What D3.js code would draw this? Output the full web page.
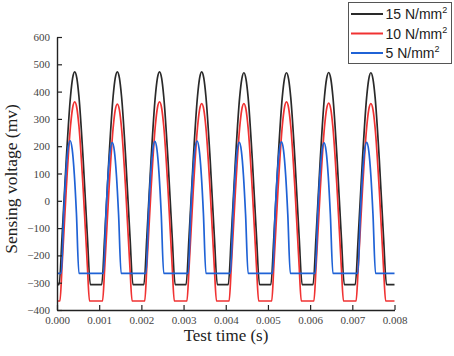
<!DOCTYPE html>
<html>
<head>
<meta charset="utf-8">
<script src="https://cdn.jsdelivr.net/npm/d3@7"></script>
<style>
  html, body { margin: 0; padding: 0; background: #fff; }
  svg { display: block; }
</style>
</head>
<body>
<svg id="chart" width="454" height="356"></svg>
<script>
// ---- data (time in ms, voltage in mV) ----
const xTickValues = [0, 1, 2, 3, 4, 5, 6, 7, 8];
const xTickLabels = ["0.000", "0.001", "0.002", "0.003", "0.004", "0.005", "0.006", "0.007", "0.008"];
const yTickValues = [-400, -300, -200, -100, 0, 100, 200, 300, 400, 500, 600];
const seriesNames = ["15 N/mm", "10 N/mm", "5 N/mm"];
const seriesColors = ["#2a2a2a", "#f03232", "#1f62d6"];

const series15 = [
  [0,-307],[0.05,-307],[0.12,-132],[0.22,152],[0.32,382],[0.37,449],[0.42,472],[0.47,449],[0.52,382],[0.62,152],[0.72,-132],[0.79,-307],
  [1.06,-307],[1.13,-132],[1.23,152],[1.33,382],[1.38,449],[1.43,472],[1.48,449],[1.53,382],[1.63,152],[1.73,-132],[1.80,-307],
  [2.06,-307],[2.13,-132],[2.23,152],[2.33,382],[2.38,449],[2.43,472],[2.48,449],[2.53,382],[2.63,152],[2.73,-132],[2.80,-307],
  [3.06,-307],[3.13,-132],[3.23,152],[3.33,382],[3.38,449],[3.43,472],[3.48,449],[3.53,382],[3.63,152],[3.73,-132],[3.80,-307],
  [4.06,-307],[4.13,-134],[4.23,150],[4.33,380],[4.38,446],[4.43,469],[4.48,446],[4.53,380],[4.63,150],[4.73,-134],[4.80,-307],
  [5.07,-307],[5.14,-134],[5.24,150],[5.34,380],[5.39,446],[5.44,469],[5.49,446],[5.54,380],[5.64,150],[5.74,-134],[5.81,-307],
  [6.07,-307],[6.14,-133],[6.24,151],[6.34,381],[6.39,447],[6.44,470],[6.49,447],[6.54,381],[6.64,151],[6.74,-133],[6.81,-307],
  [7.07,-307],[7.14,-134],[7.24,150],[7.34,380],[7.39,446],[7.44,469],[7.49,446],[7.54,380],[7.64,150],[7.74,-134],[7.81,-307],
  [8,-307]
];

const series10 = [
  [0,-367],[0.07,-367],[0.12,-240],[0.22,44],[0.32,274],[0.37,340],[0.42,362],[0.47,340],[0.52,274],[0.62,44],[0.72,-240],[0.77,-367],
  [1.08,-367],[1.13,-248],[1.23,36],[1.33,266],[1.38,332],[1.43,354],[1.48,332],[1.53,266],[1.63,36],[1.73,-248],[1.78,-367],
  [2.08,-367],[2.13,-240],[2.23,44],[2.33,274],[2.38,340],[2.43,362],[2.48,340],[2.53,274],[2.63,44],[2.73,-240],[2.78,-367],
  [3.08,-367],[3.13,-246],[3.23,38],[3.33,268],[3.38,334],[3.43,356],[3.48,334],[3.53,268],[3.63,38],[3.73,-246],[3.78,-367],
  [4.08,-367],[4.13,-246],[4.23,38],[4.33,268],[4.38,334],[4.43,356],[4.48,334],[4.53,268],[4.63,38],[4.73,-246],[4.78,-367],
  [5.09,-367],[5.14,-240],[5.24,44],[5.34,274],[5.39,340],[5.44,362],[5.49,340],[5.54,274],[5.64,44],[5.74,-240],[5.79,-367],
  [6.09,-367],[6.14,-244],[6.24,40],[6.34,270],[6.39,336],[6.44,358],[6.49,336],[6.54,270],[6.64,40],[6.74,-244],[6.79,-367],
  [7.09,-367],[7.14,-246],[7.24,38],[7.34,268],[7.39,334],[7.44,356],[7.49,334],[7.54,268],[7.64,38],[7.74,-246],[7.79,-367],
  [8,-367]
];

const series5 = [
  [0,-266],[0.10,-266],[0.16,-44],[0.21,98],[0.26,189],[0.31,220],[0.36,189],[0.41,98],[0.46,-44],[0.52,-266],
  [1.10,-266],[1.16,-51],[1.21,91],[1.26,182],[1.31,213],[1.36,182],[1.41,91],[1.46,-51],[1.52,-266],
  [2.11,-266],[2.17,-46],[2.22,96],[2.27,187],[2.32,218],[2.37,187],[2.42,96],[2.47,-46],[2.53,-266],
  [3.11,-266],[3.17,-45],[3.22,97],[3.27,188],[3.32,219],[3.37,188],[3.42,97],[3.47,-45],[3.53,-266],
  [4.11,-266],[4.17,-50],[4.22,92],[4.27,183],[4.32,214],[4.37,183],[4.42,92],[4.47,-50],[4.53,-266],
  [5.11,-266],[5.17,-48],[5.22,94],[5.27,185],[5.32,216],[5.37,185],[5.42,94],[5.47,-48],[5.53,-266],
  [6.12,-266],[6.18,-52],[6.23,90],[6.28,181],[6.33,212],[6.38,181],[6.43,90],[6.48,-52],[6.54,-266],
  [7.13,-266],[7.19,-50],[7.24,92],[7.29,183],[7.34,214],[7.39,183],[7.44,92],[7.49,-50],[7.55,-266],
  [8,-266]
];

const allSeries = [series15, series10, series5];

// ---- drawing ----
const svg = d3.select("#chart");
const serif = "'Liberation Serif', 'Times New Roman', Times, serif";
const sans = "'Liberation Sans', Arial, Helvetica, sans-serif";

const x = d3.scaleLinear().domain([0, 8]).range([57, 394.5]);
const y = d3.scaleLinear().domain([-400, 600]).range([310, 37]);

const line = d3.line()
  .x(d => x(d[0]))
  .y(d => y(d[1]))
  .curve(d3.curveMonotoneX);

svg.append("g")
  .selectAll("path")
  .data(allSeries)
  .join("path")
  .attr("d", d => line(d))
  .attr("fill", "none")
  .attr("stroke", (d, i) => seriesColors[i])
  .attr("stroke-width", 1.7)
  .attr("stroke-linejoin", "round");

// axes
const yAxis = d3.axisLeft(y)
  .tickValues(yTickValues)
  .tickSizeInner(-5)
  .tickSizeOuter(0)
  .tickPadding(7)
  .tickFormat(d3.format("d"));

const xAxis = d3.axisBottom(x)
  .tickValues(xTickValues)
  .tickSizeInner(-5)
  .tickSizeOuter(0)
  .tickPadding(6)
  .tickFormat((d, i) => xTickLabels[i]);

const gy = svg.append("g").attr("transform", "translate(57,0)").call(yAxis);
const gx = svg.append("g").attr("transform", "translate(0,310)").call(xAxis);

[gx, gy].forEach(g => {
  g.attr("font-family", null).attr("font-size", null);
  g.select(".domain").attr("stroke", "#222").attr("stroke-width", 1.4);
  g.selectAll(".tick line").attr("stroke", "#222").attr("stroke-width", 1.2);
  g.selectAll(".tick text")
    .attr("fill", "#444")
    .attr("font-family", serif)
    .attr("font-size", 11);
});

// axis titles
svg.append("text")
  .attr("x", 226)
  .attr("y", 341)
  .attr("text-anchor", "middle")
  .attr("fill", "#222")
  .attr("font-family", serif)
  .attr("font-size", 17)
  .text("Test time (s)");

svg.append("text")
  .attr("transform", "translate(17,179) rotate(-90)")
  .attr("text-anchor", "middle")
  .attr("fill", "#222")
  .attr("font-family", serif)
  .attr("font-size", 17.5)
  .text("Sensing voltage (mv)");

// legend
const legend = svg.append("g");
legend.append("rect")
  .attr("x", 348.5).attr("y", 2.5)
  .attr("width", 103).attr("height", 61)
  .attr("fill", "#fff")
  .attr("stroke", "#555")
  .attr("stroke-width", 1);

const rowsY = [14, 33.5, 53];
seriesNames.forEach((name, i) => {
  legend.append("line")
    .attr("x1", 351).attr("x2", 383)
    .attr("y1", rowsY[i]).attr("y2", rowsY[i])
    .attr("stroke", seriesColors[i])
    .attr("stroke-width", 2);
  const t = legend.append("text")
    .attr("x", 385.5)
    .attr("y", rowsY[i] + 5)
    .attr("fill", "#222")
    .attr("font-family", sans)
    .attr("font-size", 14)
    .text(name);
  t.append("tspan")
    .attr("dy", -6)
    .attr("font-size", 9)
    .text("2");
});
</script>
</body>
</html>
